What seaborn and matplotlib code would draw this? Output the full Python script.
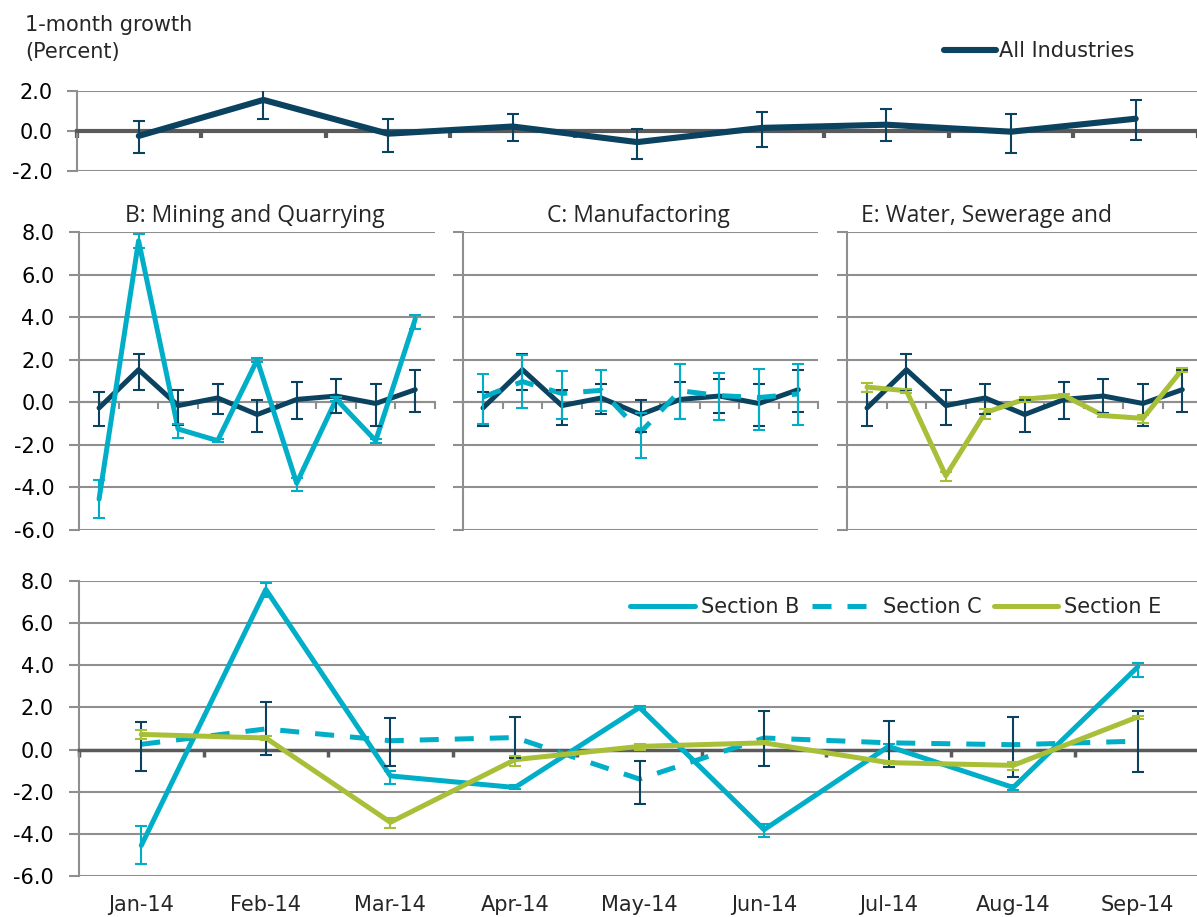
import numpy as np
import pandas as pd
import seaborn as sns
import matplotlib.pyplot as plt
from matplotlib.ticker import FormatStrFormatter

months = ["Jan-14", "Feb-14", "Mar-14", "Apr-14", "May-14",
          "Jun-14", "Jul-14", "Aug-14", "Sep-14"]

# All Industries 1-month growth and error bar ends
all_ind = [-0.26, 1.54, -0.15, 0.21, -0.57, 0.14, 0.30, -0.05, 0.60]
all_lo = [-1.12, 0.60, -1.04, -0.53, -1.40, -0.80, -0.52, -1.13, -0.44]
all_hi = [0.48, 2.30, 0.60, 0.85, 0.11, 0.94, 1.08, 0.85, 1.52]

# Section B: Mining and Quarrying
sec_b = [-4.55, 7.60, -1.25, -1.80, 2.00, -3.80, 0.15, -1.80, 3.92]
sec_b_lo = [-5.45, 7.25, -1.65, -1.88, 1.92, -4.15, 0.05, -1.90, 3.45]
sec_b_hi = [-3.65, 7.90, -1.00, -1.70, 2.08, -3.55, 0.25, -1.70, 4.10]

# Section C: Manufacturing
sec_c = [0.25, 0.98, 0.42, 0.57, -1.40, 0.55, 0.32, 0.23, 0.40]
sec_c_lo = [-1.00, -0.28, -0.78, -0.42, -2.60, -0.77, -0.82, -1.30, -1.08]
sec_c_hi = [1.32, 2.25, 1.50, 1.54, -0.52, 1.82, 1.37, 1.56, 1.82]

# Section E: Water, Sewerage and ...
sec_e = [0.72, 0.55, -3.45, -0.48, 0.15, 0.32, -0.62, -0.75, 1.55]
sec_e_lo = [0.50, 0.45, -3.70, -0.80, 0.00, 0.25, -0.70, -0.95, 1.45]
sec_e_hi = [0.92, 0.65, -3.25, -0.30, 0.25, 0.40, -0.55, -0.60, 1.60]

navy = "#0A425F"
cyan = "#00AEC7"
green = "#A8BF38"
grid_c = "#8F8F8F"
zero_c = "#5A5A5A"

sns.set_theme(style="white")
plt.rcParams["font.family"] = ["DejaVu Sans"]
plt.rcParams["axes.unicode_minus"] = False

df = pd.DataFrame({"month": months, "All Industries": all_ind,
                   "Section B": sec_b, "Section C": sec_c, "Section E": sec_e})

W, H = 1197, 917
fig = plt.figure(figsize=(W / 100, H / 100), dpi=100)


def px_axes(left, top, right, bottom):
    return fig.add_axes([left / W, 1 - bottom / H, (right - left) / W, (bottom - top) / H])


ax_top = px_axes(76.5, 90.7, 1198, 170.7)
ax_b = px_axes(79.3, 232.3, 435, 530)
ax_c = px_axes(463.3, 232.3, 818, 530)
ax_e = px_axes(847.3, 232.3, 1202, 530)
ax_bot = px_axes(79, 581, 1200, 876)


def draw(ax, col, lo, hi, color, lw, ecolor=None, dashed=False):
    sns.lineplot(data=df, x="month", y=col, ax=ax, color=color, lw=lw,
                 sort=False, label=col, legend=False, zorder=3)
    line = ax.lines[-1]
    line.set_solid_capstyle("round")
    line.set_solid_joinstyle("round")
    if dashed:
        line.set_dashes((3.8, 3.2))
    vals = np.array(df[col])
    yerr = [vals - np.array(lo), np.array(hi) - vals]
    ax.errorbar(months, vals, yerr=yerr, fmt="none", ecolor=ecolor or color,
                elinewidth=1.5, capsize=4, capthick=1.5, zorder=5)
    return line


def style(ax, ylim, yticks, zero_color, zero_lw, tick_w, labels=True, pad=11):
    ax.set_ylim(*ylim)
    ax.set_xlim(-0.5, len(months) - 0.5)
    ax.set_yticks(yticks)
    ax.yaxis.set_major_formatter(FormatStrFormatter("%.1f"))
    ax.yaxis.grid(True, color=grid_c, lw=1.5)
    ax.xaxis.grid(False)
    ax.set_axisbelow(True)
    for s in ["top", "right"]:
        ax.spines[s].set_visible(False)
    ax.spines["left"].set_color(grid_c)
    ax.spines["left"].set_linewidth(1.5)
    ax.spines["bottom"].set_position(("data", 0))
    ax.spines["bottom"].set_color(zero_color)
    ax.spines["bottom"].set_linewidth(zero_lw)
    ax.set_xticks(np.arange(-0.5, len(months), 1))
    ax.tick_params(axis="x", length=5, width=tick_w, color=zero_color,
                   direction="out", bottom=True, labelbottom=False)
    ax.tick_params(axis="y", length=7, width=1.5, color=grid_c, left=True,
                   labelsize=15, pad=pad, labelleft=labels, labelcolor="black")
    ax.set_xlabel("")
    ax.set_ylabel("")


# top panel: All Industries
l_all = draw(ax_top, "All Industries", all_lo, all_hi, navy, 4.4)
style(ax_top, (-2, 2), [-2, 0, 2], zero_c, 3.0, 3.0, pad=10)
ax_top.legend(handles=[l_all], labels=["All Industries"], loc="center left",
              bbox_to_anchor=(944 / W, 1 - 51 / H), bbox_transform=fig.transFigure,
              frameon=False, fontsize=15, handlelength=2.5, handletextpad=0.15,
              borderpad=0, borderaxespad=0)

# middle panels
for ax, col, lo, hi, color, dashed, first in [
        (ax_b, "Section B", sec_b_lo, sec_b_hi, cyan, False, True),
        (ax_c, "Section C", sec_c_lo, sec_c_hi, cyan, True, False),
        (ax_e, "Section E", sec_e_lo, sec_e_hi, green, False, False)]:
    draw(ax, "All Industries", all_lo, all_hi, navy, 3.6)
    draw(ax, col, lo, hi, color, 3.6, dashed=dashed)
    style(ax, (-6, 8), np.arange(-6, 9, 2), grid_c, 1.5, 1.5, labels=first)

# bottom panel: sections together
h_b = draw(ax_bot, "Section B", sec_b_lo, sec_b_hi, cyan, 3.6)
h_c = draw(ax_bot, "Section C", sec_c_lo, sec_c_hi, cyan, 3.6, ecolor=navy, dashed=True)
h_e = draw(ax_bot, "Section E", sec_e_lo, sec_e_hi, green, 3.6)
style(ax_bot, (-6, 8), np.arange(-6, 9, 2), zero_c, 2.5, 2.5)
sec = ax_bot.secondary_xaxis("bottom")
sec.set_xticks(range(len(months)), months)
sec.tick_params(length=0, pad=14, labelsize=15)
sec.spines["bottom"].set_visible(False)
ax_bot.legend(handles=[h_b, h_c, h_e], labels=["Section B", "Section C", "Section E"],
              loc="center left", bbox_to_anchor=(630 / W, 1 - 607 / H),
              bbox_transform=fig.transFigure, ncol=3, frameon=False, fontsize=15,
              handlelength=3.1, handletextpad=0.3, columnspacing=0.6,
              borderpad=0, borderaxespad=0)

# texts
fig.text(25 / W, 1 - 25 / H, "1-month growth", va="center", ha="left", fontsize=15)
fig.text(25 / W, 1 - 52 / H, "(Percent)", va="center", ha="left", fontsize=15)
title_font = ["Open Sans", "DejaVu Sans"]
fig.text(254.5 / W, 1 - 216 / H, "B: Mining and Quarrying", ha="center", va="center",
         fontsize=16.5, family=title_font)
fig.text(638 / W, 1 - 216 / H, "C: Manufactoring", ha="center", va="center",
         fontsize=16.5, family=title_font)
fig.text(861 / W, 1 - 216 / H, "E: Water, Sewerage and", ha="left", va="center",
         fontsize=16.5, family=title_font)

fig.savefig("out.png", dpi=100)
